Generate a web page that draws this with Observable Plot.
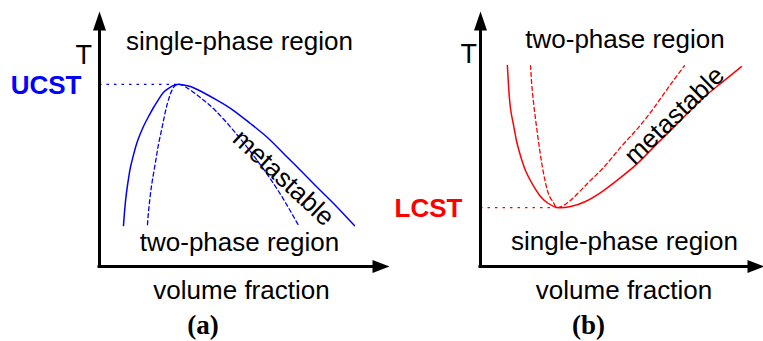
<!DOCTYPE html>
<html>
<head>
<meta charset="utf-8">
<script src="https://cdn.jsdelivr.net/npm/d3@7"></script>
<script src="https://cdn.jsdelivr.net/npm/@observablehq/plot@0.6"></script>
<style>
  html, body { margin: 0; padding: 0; background: #fff; }
  #figure { position: relative; width: 763px; height: 341px; overflow: hidden; background: #fff; }
  #figure svg { position: absolute; top: 0; }
</style>
</head>
<body>
<div id="figure"></div>
<script>
// ---- Panel (a): upper critical solution temperature (UCST) ----
// volume fraction (0..1) and reduced temperature (0..1)
const ucstBinodalPhi = [0.083, 0.087, 0.093, 0.100, 0.107, 0.118, 0.131, 0.152, 0.170, 0.187, 0.204, 0.221, 0.239,
                        0.253, 0.270, 0.291, 0.315, 0.349, 0.408, 0.464, 0.522, 0.581, 0.637, 0.696, 0.754, 0.810, 0.882];
const ucstBinodalT   = [0.161, 0.220, 0.287, 0.343, 0.390, 0.441, 0.492, 0.551, 0.591, 0.626, 0.657, 0.685, 0.701,
                        0.711, 0.717, 0.715, 0.709, 0.691, 0.654, 0.614, 0.563, 0.508, 0.445, 0.378, 0.311, 0.248, 0.161];
const ucstSpinodalPhi = [0.166, 0.170, 0.176, 0.183, 0.194, 0.204, 0.215, 0.225, 0.235, 0.246, 0.256, 0.270,
                         0.298, 0.349, 0.401, 0.464, 0.522, 0.581, 0.637, 0.689];
const ucstSpinodalT   = [0.165, 0.220, 0.283, 0.339, 0.413, 0.480, 0.539, 0.594, 0.642, 0.681, 0.705, 0.717,
                         0.707, 0.665, 0.614, 0.535, 0.453, 0.362, 0.264, 0.161];
const ucstCriticalPhi = [0.270];
const ucstCriticalT   = [0.717];

// ---- Panel (b): lower critical solution temperature (LCST) ----
const lcstBinodalPhi = [0.095, 0.099, 0.106, 0.117, 0.127, 0.141, 0.159, 0.184, 0.212, 0.240, 0.272,
                        0.318, 0.371, 0.435, 0.495, 0.555, 0.611, 0.671, 0.731, 0.788, 0.848, 0.922];
const lcstBinodalT   = [0.791, 0.713, 0.622, 0.555, 0.496, 0.437, 0.378, 0.323, 0.276, 0.248, 0.232,
                        0.236, 0.256, 0.299, 0.350, 0.406, 0.469, 0.535, 0.602, 0.665, 0.720, 0.787];
const lcstSpinodalPhi = [0.177, 0.184, 0.201, 0.219, 0.240, 0.258, 0.272,
                         0.318, 0.378, 0.435, 0.495, 0.555, 0.611, 0.664, 0.721];
const lcstSpinodalT   = [0.791, 0.681, 0.524, 0.390, 0.287, 0.252, 0.232,
                         0.260, 0.327, 0.390, 0.469, 0.543, 0.622, 0.705, 0.791];
const lcstCriticalPhi = [0.272];
const lcstCriticalT   = [0.232];

// ---- Text ----
const axisLabelX = ["volume fraction"];
const axisLabelY = ["T"];
const criticalLabels = ["UCST", "LCST"];
const regionLabelsA = ["single-phase region", "two-phase region"];
const regionLabelsB = ["two-phase region", "single-phase region"];
const metastableLabel = ["metastable"];
const captions = ["(a)", "(b)"];

const blue = "#0000ff";
const red = "#ff0000";
const sans = "Liberation Sans, Arial, Helvetica, sans-serif";
const serif = "Liberation Serif, Times New Roman, serif";

const zipPoints = (phi, T) => phi.map((p, i) => ({phi: p, T: T[i]}));

// Filled arrowheads for the axes (tip at the anchor point)
const arrowUp = {draw(ctx) { ctx.moveTo(0, -1); ctx.lineTo(6.5, 18); ctx.lineTo(-6.5, 18); ctx.closePath(); }};
const arrowRight = {draw(ctx) { ctx.moveTo(1, 0); ctx.lineTo(-16, -6.5); ctx.lineTo(-16, 6.5); ctx.closePath(); }};

function axesMarks() {
  return [
    Plot.ruleX([0], {stroke: "black", strokeWidth: 3, insetTop: 10, strokeLinecap: "square"}),
    Plot.ruleY([0], {stroke: "black", strokeWidth: 3, insetRight: 10, strokeLinecap: "square"}),
    Plot.dot([0], {x: 0, y: 1, symbol: arrowUp, fill: "black", stroke: "none"}),
    Plot.dot([0], {x: 1, y: 0, symbol: arrowRight, fill: "black", stroke: "none"})
  ];
}

const textStyle = {fontFamily: sans, fontSize: 26, fill: "black", text: d => d};
const yLabelStyle = {fontFamily: sans, fontSize: 27, fill: "black", text: d => d};
const captionStyle = {fontFamily: serif, fontWeight: "bold", fontSize: 27, fill: "black", text: d => d};

function phasePanel({width, marginRight, binodal, spinodal, critical, color, labelIndex, marks}) {
  return Plot.plot({
    width, height: 341,
    marginLeft: 99, marginRight, marginTop: 12, marginBottom: 75,
    x: {domain: [0, 1], axis: null},
    y: {domain: [0, 1], axis: null},
    style: {background: "transparent", overflow: "visible"},
    marks: [
      Plot.ruleY(critical, {y: "T", x1: 0, x2: "phi", stroke: color, strokeWidth: 1.3, strokeDasharray: "2.5,5"}),
      Plot.line(binodal, {x: "phi", y: "T", stroke: color, strokeWidth: 1.5, curve: "natural"}),
      Plot.line(spinodal, {x: "phi", y: "T", stroke: color, strokeWidth: 1.3, strokeDasharray: "4,3", curve: "natural"}),
      ...axesMarks(),
      Plot.text(critical, {x: 0, y: "T", text: () => criticalLabels[labelIndex], textAnchor: "end", lineAnchor: "middle",
        dx: -18, dy: 1, fontFamily: sans, fontSize: 26, fontWeight: "bold", fill: color}),
      ...marks
    ]
  });
}

const panelA = phasePanel({
  width: 390, marginRight: 2,
  binodal: zipPoints(ucstBinodalPhi, ucstBinodalT),
  spinodal: zipPoints(ucstSpinodalPhi, ucstSpinodalT),
  critical: zipPoints(ucstCriticalPhi, ucstCriticalT),
  color: blue, labelIndex: 0,
  marks: [
    Plot.text(axisLabelY, {...yLabelStyle, frameAnchor: "top-left", lineAnchor: "bottom", dx: -24, dy: 51}),
    Plot.text([regionLabelsA[0]], {...textStyle, frameAnchor: "top", lineAnchor: "bottom", dx: -4.5, dy: 37}),
    Plot.text([regionLabelsA[1]], {...textStyle, frameAnchor: "bottom", lineAnchor: "bottom", dx: -4.5, dy: -16}),
    Plot.text(metastableLabel, {...textStyle, frameAnchor: "middle", lineAnchor: "middle", rotate: 43, dx: 39.5, dy: 38.5}),
    Plot.text(axisLabelX, {...textStyle, frameAnchor: "bottom", lineAnchor: "bottom", dx: -2.5, dy: 32}),
    Plot.text([captions[0]], {...captionStyle, frameAnchor: "bottom", lineAnchor: "bottom", dx: -41, dy: 67})
  ]
});

const panelB = phasePanel({
  width: 382, marginRight: 0,
  binodal: zipPoints(lcstBinodalPhi, lcstBinodalT),
  spinodal: zipPoints(lcstSpinodalPhi, lcstSpinodalT),
  critical: zipPoints(lcstCriticalPhi, lcstCriticalT),
  color: red, labelIndex: 1,
  marks: [
    Plot.text(axisLabelY, {...yLabelStyle, frameAnchor: "top-left", lineAnchor: "bottom", dx: -20, dy: 50}),
    Plot.text([regionLabelsB[0]], {...textStyle, frameAnchor: "top", lineAnchor: "bottom", dx: 3, dy: 35}),
    Plot.text([regionLabelsB[1]], {...textStyle, frameAnchor: "bottom", lineAnchor: "bottom", dx: 2.5, dy: -17}),
    Plot.text(metastableLabel, {...textStyle, frameAnchor: "middle", lineAnchor: "middle", rotate: -44, dx: 52.5, dy: -24}),
    Plot.text(axisLabelX, {...textStyle, frameAnchor: "bottom", lineAnchor: "bottom", dx: 2, dy: 32}),
    Plot.text([captions[1]], {...captionStyle, frameAnchor: "bottom", lineAnchor: "bottom", dx: -33.5, dy: 67})
  ]
});

panelA.style.left = "0px";
panelB.style.left = "381px";
const figure = document.getElementById("figure");
figure.append(panelA, panelB);
</script>
</body>
</html>
